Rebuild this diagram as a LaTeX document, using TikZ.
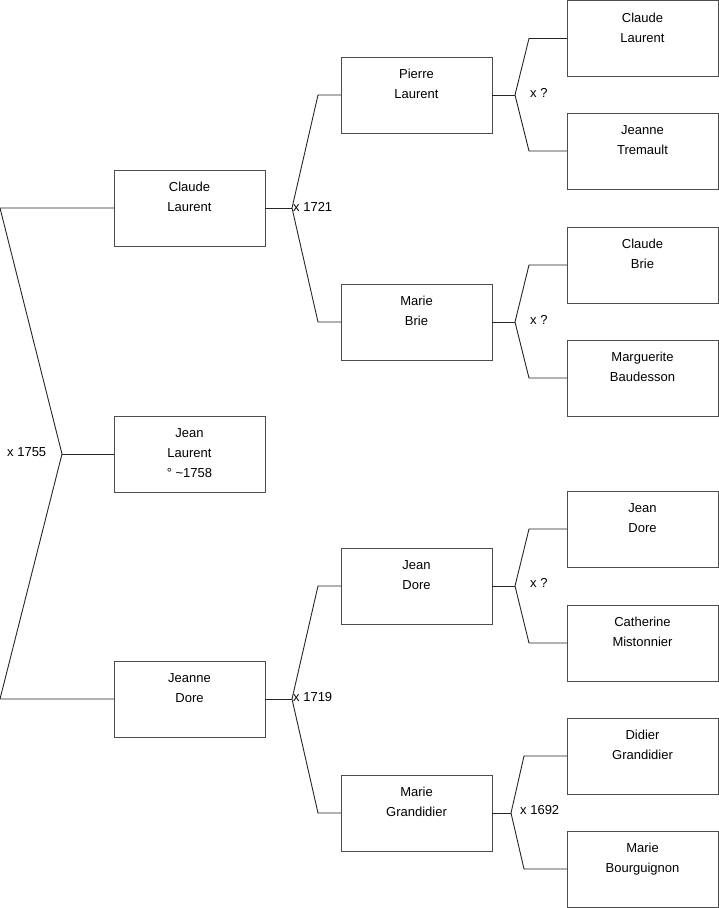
\documentclass[tikz,border=0pt]{standalone}
\usepackage{fontspec}
\setmainfont{Liberation Sans}
\begin{document}
\begin{tikzpicture}[x=1pt,y=-1pt,
  pbox/.style={draw=black!70,line width=0.9pt,anchor=north west,minimum width=151pt,minimum height=76pt,inner sep=0pt,outer sep=0pt},
  ptext/.style={anchor=north,align=center,inner sep=0pt,font=\fontsize{13}{20}\selectfont,yshift=-12pt},
  mlabel/.style={anchor=west,inner sep=0pt,font=\fontsize{13}{15}\selectfont},
  conn/.style={draw=black!85,line width=0.9pt}]
\useasboundingbox (0,0) rectangle (719,908);
% boxes
\node[pbox] (b1) at (114,170) {};
\node[ptext] (t1) at (b1.north) {Claude\\Laurent};
\node[pbox] (b2) at (114,416) {};
\node[ptext] (t2) at (b2.north) {Jean\\Laurent\\° \textasciitilde1758};
\node[pbox] (b3) at (114,661) {};
\node[ptext] (t3) at (b3.north) {Jeanne\\Dore};
\node[pbox] (c1) at (341,57) {};
\node[ptext] (u1) at (c1.north) {Pierre\\Laurent};
\node[pbox] (c2) at (341,284) {};
\node[ptext] (u2) at (c2.north) {Marie\\Brie};
\node[pbox] (c3) at (341,548) {};
\node[ptext] (u3) at (c3.north) {Jean\\Dore};
\node[pbox] (c4) at (341,775) {};
\node[ptext] (u4) at (c4.north) {Marie\\Grandidier};
\node[pbox] (d1) at (567,0.5) {};
\node[ptext] (v1) at (d1.north) {Claude\\Laurent};
\node[pbox] (d2) at (567,113) {};
\node[ptext] (v2) at (d2.north) {Jeanne\\Tremault};
\node[pbox] (d3) at (567,227) {};
\node[ptext] (v3) at (d3.north) {Claude\\Brie};
\node[pbox] (d4) at (567,340) {};
\node[ptext] (v4) at (d4.north) {Marguerite\\Baudesson};
\node[pbox] (d5) at (567,491) {};
\node[ptext] (v5) at (d5.north) {Jean\\Dore};
\node[pbox] (d6) at (567,605) {};
\node[ptext] (v6) at (d6.north) {Catherine\\Mistonnier};
\node[pbox] (d7) at (567,718) {};
\node[ptext] (v7) at (d7.north) {Didier\\Grandidier};
\node[pbox] (d8) at (567,831) {};
\node[ptext] (v8) at (d8.north) {Marie\\Bourguignon};
% root couple
\coordinate (r0) at (0,208);
\coordinate (rj) at (62,454);
\coordinate (r1) at (0,699);
\draw[conn] (b1.west) -- (r0) -- (rj) -- (r1) -- (b3.west);
\draw[conn] (rj) -- (b2.west);
\node[mlabel] (l0) at (7,452) {x 1755};
% generation 2
\coordinate (j1) at (292,208);
\coordinate (j1a) at (318,95);
\coordinate (j1b) at (318,322);
\draw[conn] (b1.east) -- (j1);
\draw[conn] (c1.west) -- (j1a) -- (j1) -- (j1b) -- (c2.west);
\node[mlabel] (l1) at (293,207) {x 1721};
\coordinate (j2) at (292,699);
\coordinate (j2a) at (318,586);
\coordinate (j2b) at (318,813);
\draw[conn] (b3.east) -- (j2);
\draw[conn] (c3.west) -- (j2a) -- (j2) -- (j2b) -- (c4.west);
\node[mlabel] (l2) at (293,697) {x 1719};
% generation 3
\coordinate (k1) at (515,95);
\coordinate (k1a) at (529,38.5);
\coordinate (k1b) at (529,151);
\draw[conn] (c1.east) -- (k1);
\draw[conn] (d1.west) -- (k1a) -- (k1) -- (k1b) -- (d2.west);
\node[mlabel] (m1) at (530,93) {x ?};
\coordinate (k2) at (515,322);
\coordinate (k2a) at (529,265);
\coordinate (k2b) at (529,378);
\draw[conn] (c2.east) -- (k2);
\draw[conn] (d3.west) -- (k2a) -- (k2) -- (k2b) -- (d4.west);
\node[mlabel] (m2) at (530,320) {x ?};
\coordinate (k3) at (515,586);
\coordinate (k3a) at (529,529);
\coordinate (k3b) at (529,643);
\draw[conn] (c3.east) -- (k3);
\draw[conn] (d5.west) -- (k3a) -- (k3) -- (k3b) -- (d6.west);
\node[mlabel] (m3) at (530,583) {x ?};
\coordinate (k4) at (511,813);
\coordinate (k4a) at (524,756);
\coordinate (k4b) at (524,869);
\draw[conn] (c4.east) -- (k4);
\draw[conn] (d7.west) -- (k4a) -- (k4) -- (k4b) -- (d8.west);
\node[mlabel] (m4) at (520,810) {x 1692};
\end{tikzpicture}
\end{document}
